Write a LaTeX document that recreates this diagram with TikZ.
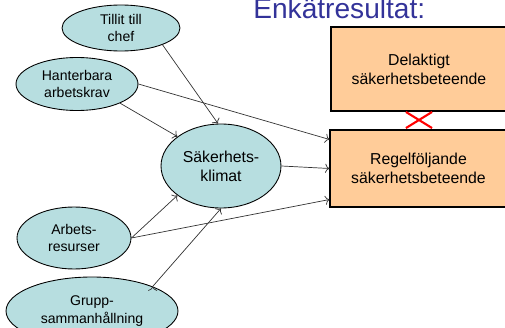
\documentclass[tikz,border=0pt]{standalone}
\usepackage{fontspec}
\setmainfont{Liberation Sans}
\usepackage{tikz}
\usepackage{xcolor}
\usetikzlibrary{arrows.meta, shapes.geometric, shapes.misc, positioning}
\definecolor{FactorTeal}{HTML}{B7DEE0}
\definecolor{OutcomePeach}{HTML}{FFCC99}
\definecolor{TitleBlue}{HTML}{333399}

\begin{document}
\begin{tikzpicture}[x=0.02cm, y=-0.02cm, auto,
    factor/.style={ellipse, draw, line width=0.5pt, fill=FactorTeal, inner sep=0pt, align=center, font=\fontsize{8}{10}\selectfont},
    outcome/.style={rectangle, draw, line width=0.6pt, fill=OutcomePeach, inner sep=0pt, align=center, font=\fontsize{9}{10.8}\selectfont},
    link/.style={->, line width=0.4pt, draw=black!80}]

        \useasboundingbox (0,0) rectangle (505,328);

        \node[anchor=base west, text=TitleBlue, font=\fontsize{16}{18}\selectfont, inner sep=0pt] (title) at (253,18) {Enkätresultat:};

        \node[factor, minimum width=2.36cm, minimum height=0.92cm] (tillit) at (121,28) {Tillit till\\chef};
        \node[factor, minimum width=2.44cm, minimum height=1.06cm] (hanter) at (77,84) {Hanterbara\\arbetskrav};
        \node[factor, minimum width=2.4cm, minimum height=1.68cm, font=\fontsize{9}{10.8}\selectfont] (klimat) at (221,166) {Säkerhets-\\klimat};
        \node[factor, minimum width=2.28cm, minimum height=1.24cm] (resurs) at (74,238) {Arbets-\\resurser};
        \node[factor, minimum width=3.44cm, minimum height=1.36cm] (grupp) at (92,311) {Grupp-\\sammanhållning};

        \node[outcome, minimum width=3.52cm, minimum height=1.68cm] (delakt) at (419,69) {Delaktigt\\säkerhetsbeteende};
        \node[outcome, minimum width=3.54cm, minimum height=1.54cm] (regel) at (418.5,168.5) {Regelföljande\\säkerhetsbeteende};

        \node[cross out, draw=red, line width=1.2pt, inner sep=0pt, minimum width=0.48cm, minimum height=0.28cm] (kryss) at (419,120) {};

        \path[link]
        (tillit.-22) edge (klimat.94)
        (hanter.-24) edge (klimat.146)
        (hanter.east) edge ([yshift=-0.2cm]regel.north west)
        (klimat.east) edge (regel.west)
        (resurs.east) edge (klimat.214)
        (resurs.east) edge ([yshift=0.16cm]regel.south west)
        (grupp.22) edge (klimat.south)
        ;

\end{tikzpicture}
\end{document}
